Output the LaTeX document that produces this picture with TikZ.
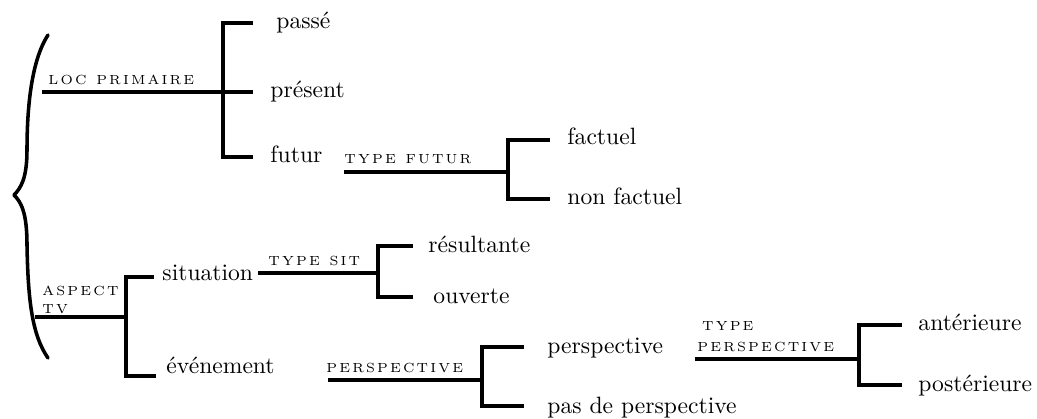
\documentclass[tikz,border=0pt]{standalone}
\makeatletter
\newcommand\lspaced[1]{\@tfor\lsx:=#1\do{\lsx\kern0.9pt}}
\makeatother
\tikzset{
  br/.style={line width=1.5pt},
  brace/.style={line width=1.5pt, line cap=round, line join=round},
  leaf/.style={anchor=base west, inner sep=0pt, font=\fontsize{10}{12}\selectfont},
  lab/.style={anchor=base west, inner sep=0pt, align=left,
    font=\fontsize{5.6}{7.6}\selectfont},
}
\begin{document}
\begin{tikzpicture}[x=0.4237pt,y=-0.4237pt]
\useasboundingbox (0,0) rectangle (1037,418);
% brace
\draw[brace] (48,35) .. controls (33,58) and (27,100) .. (27,150)
  .. controls (27,178) and (21,188) .. (14,195)
  .. controls (21,202) and (27,212) .. (27,245)
  .. controls (28,300) and (32,335) .. (48,358);
% LOC PRIMAIRE
\node[lab] (loc) at (48,84) {\lspaced{LOC\ PRIMAIRE}};
\coordinate (locS) at (42,92);
\coordinate (b1) at (223,92);
\node[leaf] (passe) at (276,28) {passé};
\node[leaf] (present) at (270,97) {présent};
\node[leaf] (futur) at (270,162) {futur};
\draw[br] (locS) -- (b1) -- (253,92);
\draw[br] (253,23) -- (223,23) -- (223,157) -- (253,157);
% TYPE FUTUR
\node[lab] (tf) at (344,163) {\lspaced{TYPE\ FUTUR}};
\coordinate (tfS) at (344,172);
\coordinate (b2) at (508,172);
\node[leaf] (factuel) at (567,144) {factuel};
\node[leaf] (nonfactuel) at (567,204) {non factuel};
\draw[br] (tfS) -- (b2);
\draw[br] (550,140) -- (508,140) -- (508,199) -- (550,199);
% ASPECT TV
\node[lab] (asp) at (42,313) {\lspaced{ASPECT}\\\lspaced{TV}};
\coordinate (aspS) at (35,317);
\coordinate (b3) at (126,317);
\node[leaf] (situation) at (162,280) {situation};
\node[leaf] (evenement) at (166,373) {événement};
\draw[br] (aspS) -- (b3);
\draw[br] (154,277) -- (126,277) -- (126,376) -- (156,376);
% TYPE SIT
\node[lab] (ts) at (268,265) {\lspaced{TYPE\ SIT}};
\coordinate (tsS) at (258,273);
\coordinate (b4) at (378,273);
\node[leaf] (resultante) at (428,252) {résultante};
\node[leaf] (ouverte) at (433,303) {ouverte};
\draw[br] (tsS) -- (b4);
\draw[br] (413,246) -- (378,246) -- (378,297) -- (413,297);
% PERSPECTIVE
\node[lab] (persp) at (326,372) {\lspaced{PERSPECTIVE}};
\coordinate (pS) at (328,380);
\coordinate (b5) at (482,380);
\node[leaf] (perspective) at (547,353) {perspective};
\node[leaf] (pasde) at (547,413) {pas de perspective};
\draw[br] (pS) -- (b5);
\draw[br] (524,347) -- (482,347) -- (482,406) -- (524,406);
% TYPE PERSPECTIVE
\node[lab] (tp) at (697,351) {\hspace{2pt}\lspaced{TYPE}\\[1.3pt]\lspaced{PERSPECTIVE}};
\coordinate (tpS) at (695,359);
\coordinate (b6) at (859,359);
\node[leaf] (anterieure) at (918,330) {antérieure};
\node[leaf] (posterieure) at (918,391) {postérieure};
\draw[br] (tpS) -- (b6);
\draw[br] (902,325) -- (859,325) -- (859,385) -- (902,385);
\end{tikzpicture}
\end{document}
